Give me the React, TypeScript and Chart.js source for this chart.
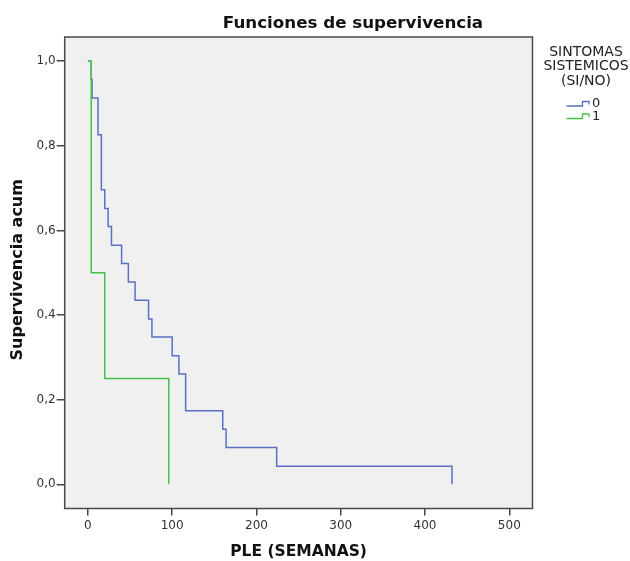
import React, { useEffect, useRef } from 'react';
import { Chart, registerables } from 'chart.js';

Chart.register(...registerables);

// Kaplan-Meier step data: time (weeks) and cumulative survival after each event
const group0Times = [0, 4, 5, 12, 16, 20, 24, 28, 40, 48, 56, 72, 76, 100, 108, 116, 160, 164, 224, 432];
const group0Surv = [1, 0.957, 0.913, 0.826, 0.696, 0.652, 0.609, 0.565, 0.522, 0.478, 0.435, 0.391, 0.348, 0.304, 0.261, 0.174, 0.13, 0.087, 0.043, 0];
const group1Times = [0, 4, 20, 96];
const group1Surv = [1, 0.5, 0.25, 0];

const seriesLabels = ['0', '1'];
const seriesColors = ['#5b70c4', '#46c046'];

const xTicks = [0, 100, 200, 300, 400, 500];
const yTicks = [0, 0.2, 0.4, 0.6, 0.8, 1.0];
const yTickLabels = ['0,0', '0,2', '0,4', '0,6', '0,8', '1,0'];

const chartTitle = 'Funciones de supervivencia';
const xTitle = 'PLE (SEMANAS)';
const yTitle = 'Supervivencia acum';
const legendTitle = ['SINTOMAS', 'SISTEMICOS', '(SI/NO)'];

const FONT = '"DejaVu Sans", sans-serif';

const decor = {
  id: 'decor',
  beforeDraw(chart: any) {
    const { ctx, chartArea: a } = chart;
    ctx.save();
    ctx.fillStyle = '#ffffff';
    ctx.fillRect(0, 0, chart.width, chart.height);
    ctx.fillStyle = '#f0f0f0';
    ctx.fillRect(a.left, a.top, a.right - a.left, a.bottom - a.top);
    ctx.restore();
  },
  afterDraw(chart: any) {
    const { ctx, chartArea: a } = chart;
    ctx.save();
    // frame
    ctx.strokeStyle = '#4a4a4a';
    ctx.lineWidth = 1.5;
    ctx.strokeRect(a.left, a.top, a.right - a.left, a.bottom - a.top);

    // main title
    ctx.fillStyle = '#111';
    ctx.font = `bold 16.7px ${FONT}`;
    ctx.textAlign = 'center';
    ctx.textBaseline = 'alphabetic';
    ctx.fillText(chartTitle, 353, 28);

    // x title
    ctx.font = `bold 15.5px ${FONT}`;
    ctx.fillText(xTitle, (a.left + a.right) / 2, 556);

    // y title
    ctx.save();
    ctx.translate(22, (a.top + a.bottom) / 2 - 3);
    ctx.rotate(-Math.PI / 2);
    ctx.font = `bold 16px ${FONT}`;
    ctx.fillText(yTitle, 0, 0);
    ctx.restore();

    // legend title
    ctx.font = `14px ${FONT}`;
    ctx.fillStyle = '#222';
    const baselines = [56, 70, 85];
    legendTitle.forEach((t, i) => ctx.fillText(t, 586, baselines[i]));

    // legend items
    ctx.textAlign = 'left';
    ctx.textBaseline = 'middle';
    ctx.font = `13px ${FONT}`;
    seriesLabels.forEach((lab, i) => {
      const low = 106 + i * 12.5;
      const high = low - 4.5;
      ctx.strokeStyle = seriesColors[i];
      ctx.lineWidth = 1.3;
      ctx.beginPath();
      ctx.moveTo(566.5, low);
      ctx.lineTo(582.5, low);
      ctx.lineTo(582.5, high);
      ctx.lineTo(589, high);
      ctx.lineTo(589, high + 3);
      ctx.stroke();
      ctx.fillStyle = '#222';
      ctx.fillText(lab, 592, low - 2);
    });
    ctx.restore();
  },
};

export default function App() {
  const ref = useRef<HTMLCanvasElement | null>(null);

  useEffect(() => {
    if (!ref.current) return;
    const toPts = (xs: number[], ys: number[]) => xs.map((x, i) => ({ x, y: ys[i] }));
    const chart = new Chart(ref.current, {
      type: 'line',
      data: {
        datasets: [
          {
            label: seriesLabels[0],
            data: toPts(group0Times, group0Surv),
            borderColor: seriesColors[0],
            borderWidth: 1.5,
            stepped: 'before',
            pointRadius: 0,
            fill: false,
            order: 1,
          },
          {
            label: seriesLabels[1],
            data: toPts(group1Times, group1Surv),
            borderColor: seriesColors[1],
            borderWidth: 1.5,
            stepped: 'before',
            pointRadius: 0,
            fill: false,
            order: 0,
          },
        ],
      },
      options: {
        animation: false,
        responsive: false,
        devicePixelRatio: 1,
        layout: { padding: { top: 37, right: 97.5, left: 0, bottom: 0 } },
        plugins: {
          legend: { display: false },
          title: { display: false },
          tooltip: { enabled: false },
        },
        scales: {
          x: {
            type: 'linear',
            min: -27.5,
            max: 527.5,
            afterBuildTicks: (s: any) => {
              s.ticks = xTicks.map((v) => ({ value: v }));
            },
            afterFit: (s: any) => {
              s.height = 52.5;
            },
            border: { display: false },
            grid: {
              drawOnChartArea: false,
              drawTicks: true,
              tickLength: 7,
              color: '#444',
              lineWidth: 1.5,
            },
            ticks: {
              padding: 3,
              color: '#333',
              font: { family: FONT, size: 12 },
              maxRotation: 0,
              callback: (v: any) => String(v),
            },
          },
          y: {
            type: 'linear',
            min: -0.057,
            max: 1.057,
            afterBuildTicks: (s: any) => {
              s.ticks = yTicks.map((v) => ({ value: v }));
            },
            afterFit: (s: any) => {
              s.width = 64.7;
            },
            border: { display: false },
            grid: {
              drawOnChartArea: false,
              drawTicks: true,
              tickLength: 8,
              color: '#444',
              lineWidth: 1.5,
            },
            ticks: {
              padding: 1,
              color: '#333',
              font: { family: FONT, size: 12 },
              callback: (v: any) => {
                const idx = yTicks.findIndex((t) => Math.abs(t - v) < 1e-6);
                return idx >= 0 ? yTickLabels[idx] : '';
              },
            },
          },
        },
      },
      plugins: [decor],
    } as any);
    return () => chart.destroy();
  }, []);

  return (
    <div style={{ position: 'fixed', left: 0, top: 0, width: 630, height: 561, background: '#fff' }}>
      <canvas ref={ref} width={630} height={561} style={{ width: 630, height: 561, display: 'block' }} />
    </div>
  );
}
